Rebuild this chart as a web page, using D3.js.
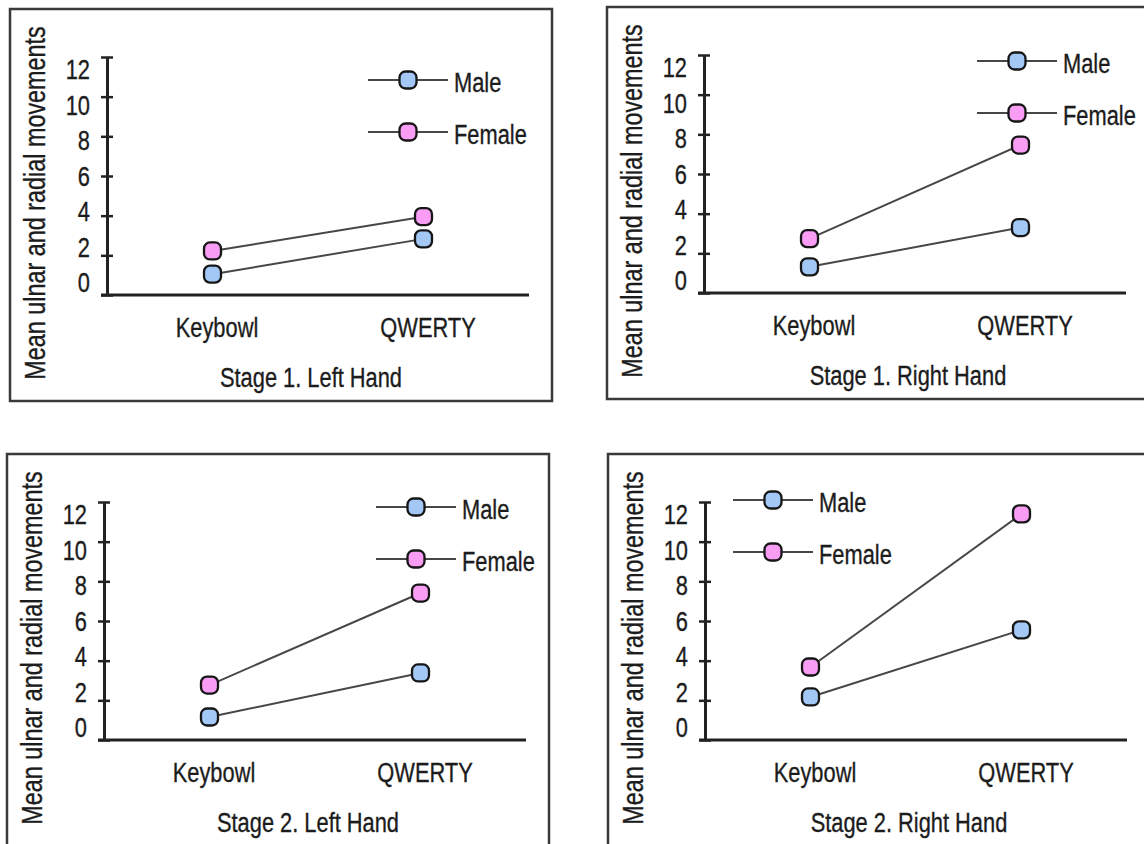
<!DOCTYPE html>
<html>
<head>
<meta charset="utf-8">
<script src="https://cdn.jsdelivr.net/npm/d3@7"></script>
<style>
  html, body { margin: 0; padding: 0; background: #fff; }
  svg { display: block; }
  text { font-family: "Liberation Sans", Arial, sans-serif; fill: #1c1c1c; stroke: #1c1c1c; stroke-width: 0.35px; }
</style>
</head>
<body>
<div id="chart"></div>
<script>
// values
var categories = ['Keybowl', 'QWERTY'];
var seriesNames = ['Male', 'Female'];
var panelTitles = ['Stage 1. Left Hand', 'Stage 1. Right Hand', 'Stage 2. Left Hand', 'Stage 2. Right Hand'];
var maleValues = [[1.05, 2.83], [1.32, 3.30], [1.16, 3.38], [2.17, 5.55]];
var femaleValues = [[2.22, 3.95], [2.74, 7.46], [2.77, 7.41], [3.68, 11.4]];
var yTicks = [0, 2, 4, 6, 8, 10, 12];
var yAxisLabel = 'Mean ulnar and radial movements';

// layout
var width = 1144, height = 844;
var panelW = 542, panelH = 392;
var panelPos = [[10, 9], [607, 7], [7, 454], [608, 454]];
var legendPos = [[301, 23], [313, 6], [312, 5], [68, -2]];
var plotLeft = 97, plotTop = 48, plotW = 422, plotH = 238;
var colors = { 'Male': '#a3c8f6', 'Female': '#f99cf3' };
var fontSize = 28;
var squeeze = 0.78; // the original uses a condensed face

var svg = d3.select('#chart').append('svg')
    .attr('width', width)
    .attr('height', height);

var x = d3.scalePoint().domain(categories).range([0, plotW]).padding(0.5);
var y = d3.scaleLinear().domain([0, 12]).range([plotH, 0]);
// tick labels sit a bit closer together than the ticks themselves
var yLab = d3.scaleLinear().domain([0, 12]).range([plotH - 13, 12]);

var line = d3.line()
    .x(function (d) { return x(d.cat); })
    .y(function (d) { return y(d.value); });

function marker(sel, color) {
    sel.append('rect')
        .attr('x', -8.5).attr('y', -8.5)
        .attr('width', 17).attr('height', 17)
        .attr('rx', 6).attr('ry', 6)
        .attr('fill', color)
        .attr('stroke', '#161616')
        .attr('stroke-width', 2.3);
}

function narrow(px, py, rot) {
    return 'translate(' + px + ',' + py + ')' + (rot ? ' rotate(' + rot + ')' : '') + ' scale(' + squeeze + ',1)';
}

panelTitles.forEach(function (title, i) {
    var panel = svg.append('g')
        .attr('transform', 'translate(' + panelPos[i][0] + ',' + panelPos[i][1] + ')');

    panel.append('rect')
        .attr('x', 0).attr('y', 0)
        .attr('width', panelW).attr('height', panelH)
        .attr('fill', 'none')
        .attr('stroke', '#3a3a3a')
        .attr('stroke-width', 2.5);

    panel.append('text')
        .attr('transform', narrow(25, 194, -90))
        .attr('text-anchor', 'middle')
        .attr('dominant-baseline', 'central')
        .attr('font-size', 30)
        .text(yAxisLabel);

    panel.append('text')
        .attr('transform', narrow(plotLeft + 204, plotTop + plotH + 82))
        .attr('text-anchor', 'middle')
        .attr('dominant-baseline', 'central')
        .attr('font-size', fontSize)
        .text(title);

    var g = panel.append('g')
        .attr('transform', 'translate(' + plotLeft + ',' + plotTop + ')');

    // y axis with ticks crossing the line
    var yAxis = g.append('g')
        .call(d3.axisLeft(y).tickValues(yTicks).tickSizeInner(6).tickSizeOuter(0));
    yAxis.attr('font-family', null).attr('font-size', null);
    yAxis.select('.domain').attr('stroke', '#222').attr('stroke-width', 3);
    yAxis.selectAll('.tick line').attr('x1', 6).attr('stroke', '#222').attr('stroke-width', 2.5);
    yAxis.selectAll('.tick text')
        .attr('x', null)
        .attr('y', null)
        .attr('transform', function (d) { return narrow(-17, yLab(d) - y(d)); })
        .attr('dy', '0.35em')
        .attr('font-size', fontSize)
        .attr('fill', '#1c1c1c');

    // x axis
    var xAxis = g.append('g')
        .attr('transform', 'translate(0,' + plotH + ')')
        .call(d3.axisBottom(x).tickSize(0).tickPadding(0));
    xAxis.attr('font-family', null).attr('font-size', null);
    xAxis.select('.domain').remove();
    xAxis.append('line')
        .attr('x1', -6).attr('x2', plotW)
        .attr('stroke', '#222').attr('stroke-width', 3);
    xAxis.selectAll('.tick text')
        .attr('y', null)
        .attr('transform', narrow(4, 32))
        .attr('dy', '0.35em')
        .attr('font-size', fontSize)
        .attr('fill', '#1c1c1c');

    var series = [
        { name: 'Male', values: maleValues[i] },
        { name: 'Female', values: femaleValues[i] }
    ];

    series.forEach(function (s) {
        var pts = categories.map(function (c, j) { return { cat: c, value: s.values[j] }; });
        g.append('path')
            .datum(pts)
            .attr('fill', 'none')
            .attr('stroke', '#474747')
            .attr('stroke-width', 2)
            .attr('d', line);
        g.selectAll(null)
            .data(pts)
            .enter().append('g')
            .attr('transform', function (d) { return 'translate(' + x(d.cat) + ',' + y(d.value) + ')'; })
            .each(function () { marker(d3.select(this), colors[s.name]); });
    });

    // legend
    var legend = g.append('g')
        .attr('transform', 'translate(' + legendPos[i][0] + ',' + legendPos[i][1] + ')');
    seriesNames.forEach(function (name, k) {
        var row = legend.append('g').attr('transform', 'translate(0,' + k * 52 + ')');
        row.append('line')
            .attr('x1', -40).attr('x2', 40)
            .attr('stroke', '#474747').attr('stroke-width', 2);
        marker(row, colors[name]);
        row.append('text')
            .attr('transform', narrow(46, 2))
            .attr('dominant-baseline', 'central')
            .attr('font-size', fontSize)
            .text(name);
    });
});
</script>
</body>
</html>
